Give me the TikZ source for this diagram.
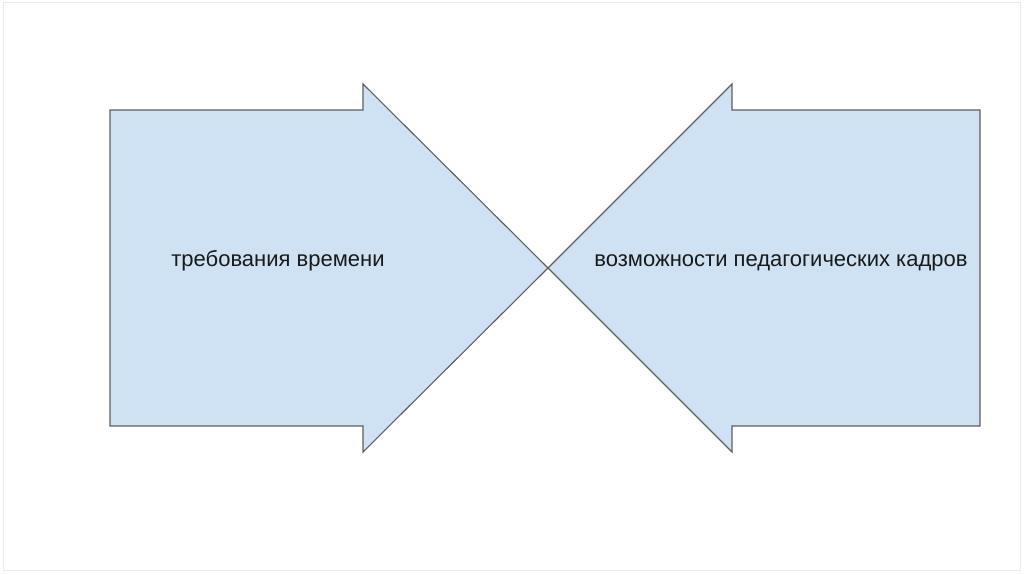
\documentclass[tikz,border=0pt]{standalone}
\usepackage{fontspec}
\setmainfont{Liberation Sans}
\usetikzlibrary{positioning}
\definecolor{arrowfill}{HTML}{CFE2F3}
\definecolor{arrowline}{HTML}{5F5F5F}

\begin{document}
\begin{tikzpicture}[
        x=1pt, y=-1pt,
        blockarrow/.style={draw=arrowline, fill=arrowfill, line width=1.1pt, line join=miter},
        label/.style={font=\fontsize{22}{26}\selectfont, text=black!90, inner sep=0pt, anchor=base},
        frame/.style={draw=black!7, line width=0.8pt}
    ]

    % Slide area
    \path[use as bounding box] (0,0) rectangle (1024,574);
    \draw[frame] (3,2) rectangle (1020,570);

    % Left arrow
    \draw[blockarrow] (110,110) -- (363,110) -- (363,84) -- (548,268) -- (363,452) -- (363,426) -- (110,426) -- cycle;
    % Right arrow
    \draw[blockarrow] (980,110) -- (732,110) -- (732,84) -- (548,268) -- (732,452) -- (732,426) -- (980,426) -- cycle;

    % Labels
    \node[label] (demands) at (278,266) {требования времени};
    \node[label] (abilities) at (781,266) {возможности педагогических кадров};

\end{tikzpicture}
\end{document}
